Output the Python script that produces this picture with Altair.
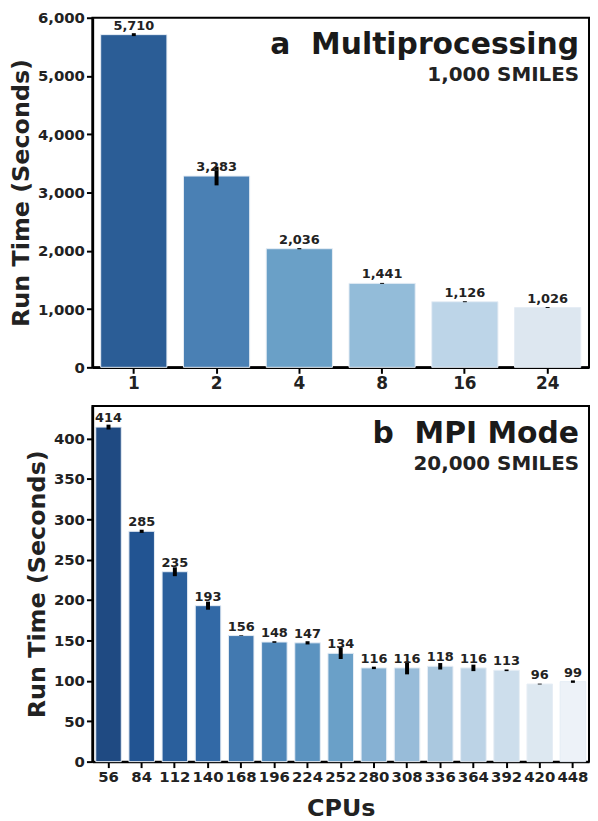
import altair as alt
import pandas as pd

FONT = "DejaVu Sans"

# Panel a: Multiprocessing, 1,000 SMILES
cpus_a = ["1", "2", "4", "8", "16", "24"]
time_a = [5710, 3283, 2036, 1441, 1126, 1026]
err_a = [25, 160, 10, 8, 8, 8]
colors_a = ["#2b5d96", "#4a80b4", "#6aa0c7", "#93bcd9", "#bdd5e8", "#dde7f0"]

# Panel b: MPI Mode, 20,000 SMILES
cpus_b = ["56", "84", "112", "140", "168", "196", "224", "252", "280", "308",
          "336", "364", "392", "420", "448"]
time_b = [414, 285, 235, 193, 156, 148, 147, 134, 116, 116, 118, 116, 113, 96, 99]
err_b = [3, 2, 5.5, 5, 0.4, 1, 2, 7, 1.5, 8, 4, 4, 1, 0.5, 1.5]
colors_b = ["#1f4a82", "#225492", "#2a5f9c", "#3269a6", "#4279b0", "#4f87b9",
            "#5b93c0", "#6aa0c8", "#86b1d3", "#98bcd9", "#aac8df", "#bcd3e6",
            "#cddeec", "#dde8f1", "#edf2f8"]

W = 500


def panel(cpus, times, errs, colors, ymax, ystep, yfmt, letter, title, subtitle,
          xtitle, height, pin, pout, xlab_size, ylab_size):
    df = pd.DataFrame({
        "cpu": cpus,
        "time": times,
        "lo": [t - e for t, e in zip(times, errs)],
        "hi": [t + e for t, e in zip(times, errs)],
        "label": [f"{t:,}" for t in times],
    })
    if xtitle:
        xaxis = alt.Axis(labelAngle=0, labelFontSize=xlab_size, title=xtitle,
                         titlePadding=12)
    else:
        xaxis = alt.Axis(labelAngle=0, labelFontSize=xlab_size, title=None)
    xenc = alt.X("cpu:N", sort=cpus,
                 scale=alt.Scale(paddingInner=pin, paddingOuter=pout),
                 axis=xaxis)
    yscale = alt.Scale(domain=[0, ymax], nice=False, zero=True)
    base = alt.Chart(df)
    bars = base.mark_bar(stroke="#e6edf5", strokeWidth=1).encode(
        x=xenc,
        y=alt.Y("time:Q", scale=yscale,
                axis=alt.Axis(title="Run Time (Seconds)", format=yfmt,
                              labelFontSize=ylab_size, titlePadding=4,
                              values=list(range(0, ymax + 1, ystep)))),
        color=alt.Color("cpu:N", sort=cpus,
                        scale=alt.Scale(domain=cpus, range=colors), legend=None),
    )
    errbars = base.mark_rule(color="black", strokeWidth=4).encode(
        x=alt.X("cpu:N", sort=cpus),
        y="lo:Q",
        y2="hi:Q",
    )
    labels = base.mark_text(font=FONT, fontWeight="bold", fontSize=13,
                            color="#222222", baseline="alphabetic", dy=-5).encode(
        x=alt.X("cpu:N", sort=cpus),
        y="time:Q",
        text="label:N",
    )
    tdf = pd.DataFrame({"t": [f"{letter}\u00a0\u00a0{title}"], "s": [subtitle]})
    ttl = alt.Chart(tdf).mark_text(font=FONT, fontWeight="bold", fontSize=30,
                                   color="#1a1a1a", align="right",
                                   baseline="alphabetic").encode(
        x=alt.value(W - 10), y=alt.value(37), text="t:N")
    sub = alt.Chart(tdf).mark_text(font=FONT, fontWeight="bold", fontSize=20,
                                   color="#222222", align="right",
                                   baseline="alphabetic").encode(
        x=alt.value(W - 10), y=alt.value(64), text="s:N")
    return alt.layer(bars, errbars, labels, ttl, sub).properties(
        width=W, height=height)


top = panel(cpus_a, time_a, err_a, colors_a, 6000, 1000, ",.0f", "a",
            "Multiprocessing", "1,000 SMILES", None, 352, 0.2, 0.1, 17, 15)
bottom = panel(cpus_b, time_b, err_b, colors_b, 440, 50, ".0f", "b", "MPI Mode",
               "20,000 SMILES", "CPUs", 358, 0.23, 0.1, 15, 15)

chart = alt.vconcat(top, bottom, spacing=13).resolve_scale(
    color="independent", x="independent", y="independent"
).configure_view(
    stroke="black", strokeWidth=2
).configure_axis(
    grid=False,
    domainColor="black", domainWidth=2.5,
    tickColor="black", tickWidth=2, tickSize=6,
    labelFont=FONT, labelFontWeight="bold", labelColor="#222222",
    labelPadding=2,
    titleFont=FONT, titleFontWeight="bold", titleFontSize=24, titleColor="#222222",
).properties(padding={"left": 0, "top": -1, "right": 0, "bottom": 0},
             background="white")

chart.save("out.html", embed_options={"renderer": "svg", "actions": False})
